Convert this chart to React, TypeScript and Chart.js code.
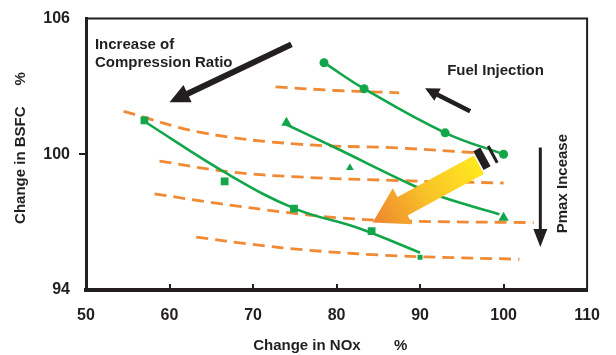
import React, { useEffect, useRef } from 'react';
import { Chart, registerables } from 'chart.js';

Chart.register(...registerables);

const FONT = "'Liberation Sans', Arial, sans-serif";
const INK = '#231f20';
const GREEN = '#12a54a';
const ORANGE = '#f08a34';

const xTickValues = [50, 60, 70, 80, 90, 100, 110];
const yTickValues = [94, 100, 106];

// circles (fuel injection sweep)
const circleX = [78.5, 83.3, 93.0, 100.0];
const circleY = [104.05, 102.9, 100.95, 100.0];

// triangles
const triangleX = [74.0, 81.6, 100.0];
const triangleY = [101.4, 99.4, 97.2];
const triangleSize = [6, 4.5, 6];
const triangleFitX = [73.8, 79.8, 89.3, 92.7, 99.5];
const triangleFitY = [101.35, 100.3, 98.6, 98.1, 97.35];

// squares
const squareX = [57.0, 66.6, 74.9, 84.2, 90.0];
const squareY = [101.5, 98.8, 97.6, 96.6, 95.45];
const squareSize = [5.5, 5.5, 5.5, 5.5, 3.5];
const squareFitX = [57.0, 67.1, 75.0, 82.5, 90.0];
const squareFitY = [101.45, 99.1, 97.6, 96.75, 95.65];

// orange dashed (constant Pmax lines)
const dash1X = [72.7, 80.0, 87.5];
const dash1Y = [102.98, 102.82, 102.72];
const dash2X = [54.5, 63.9, 75.4, 87.3, 96.8];
const dash2Y = [101.9, 100.96, 100.45, 100.28, 100.07];
const dash3X = [58.8, 67.1, 75.4, 87.3, 100.0];
const dash3Y = [99.7, 99.23, 99.0, 98.84, 98.73];
const dash4X = [58.2, 66.0, 74.0, 80.0, 88.0, 103.6];
const dash4Y = [98.25, 97.82, 97.43, 97.2, 97.05, 96.98];
const dash5X = [63.2, 69.9, 76.6, 87.3, 101.9];
const dash5Y = [96.34, 96.02, 95.76, 95.51, 95.36];

// annotations (data coordinates)
const compArrow = { from: [74.6, 104.86], to: [60.0, 102.3] };
const fuelArrow = { from: [96.0, 101.9], to: [90.6, 102.92] };
const pmaxArrow = { from: [104.4, 100.3], to: [104.4, 95.9] };
const bigArrow = { from: [97.05, 99.54], to: [84.33, 96.99] };
const labels = [
  { text: 'Increase of', x: 51.07, y: 104.64 },
  { text: 'Compression Ratio', x: 51.07, y: 103.85 },
  { text: 'Fuel Injection', x: 93.25, y: 103.49 },
];
const pmaxLabel = { text: 'Pmax Incease', x: 107.62, y: 96.51 };

const pts = (xs: number[], ys: number[]) => xs.map((x, i) => ({ x, y: ys[i] }));

function arrow(ctx: CanvasRenderingContext2D, x1: number, y1: number, x2: number, y2: number,
  shaft: number, headL: number, headW: number, fill: any) {
  const dx = x2 - x1, dy = y2 - y1, len = Math.hypot(dx, dy);
  const ux = dx / len, uy = dy / len, px = -uy, py = ux;
  const bx = x2 - ux * headL, by = y2 - uy * headL;
  ctx.beginPath();
  ctx.moveTo(x1 + px * shaft / 2, y1 + py * shaft / 2);
  ctx.lineTo(bx + px * shaft / 2, by + py * shaft / 2);
  ctx.lineTo(bx + px * headW / 2, by + py * headW / 2);
  ctx.lineTo(x2, y2);
  ctx.lineTo(bx - px * headW / 2, by - py * headW / 2);
  ctx.lineTo(bx - px * shaft / 2, by - py * shaft / 2);
  ctx.lineTo(x1 - px * shaft / 2, y1 - py * shaft / 2);
  ctx.closePath();
  ctx.fillStyle = fill;
  ctx.fill();
}

function rotRect(ctx: CanvasRenderingContext2D, cx: number, cy: number, ax: number, ay: number,
  px: number, py: number, along: number, across: number) {
  ctx.beginPath();
  ctx.moveTo(cx + ax * along / 2 + px * across / 2, cy + ay * along / 2 + py * across / 2);
  ctx.lineTo(cx - ax * along / 2 + px * across / 2, cy - ay * along / 2 + py * across / 2);
  ctx.lineTo(cx - ax * along / 2 - px * across / 2, cy - ay * along / 2 - py * across / 2);
  ctx.lineTo(cx + ax * along / 2 - px * across / 2, cy + ay * along / 2 - py * across / 2);
  ctx.closePath();
  ctx.fill();
}

const decorPlugin = {
  id: 'decor',
  afterDraw(chart: any) {
    const { ctx, chartArea: a, scales } = chart;
    const X = (v: number) => scales.x.getPixelForValue(v);
    const Y = (v: number) => scales.y.getPixelForValue(v);
    ctx.save();
    // top & right frame
    ctx.strokeStyle = INK;
    ctx.lineWidth = 2;
    ctx.beginPath();
    ctx.moveTo(a.left, a.top);
    ctx.lineTo(a.right, a.top);
    ctx.lineTo(a.right, a.bottom);
    ctx.stroke();
    // inward x ticks
    ctx.lineWidth = 2;
    xTickValues.slice(1, -1).forEach((v) => {
      const x = Math.round(X(v));
      ctx.beginPath();
      ctx.moveTo(x, a.bottom - 1);
      ctx.lineTo(x, a.bottom - 6);
      ctx.stroke();
    });

    // black arrows
    arrow(ctx, X(compArrow.from[0]), Y(compArrow.from[1]), X(compArrow.to[0]), Y(compArrow.to[1]), 6, 20, 19, INK);
    arrow(ctx, X(fuelArrow.from[0]), Y(fuelArrow.from[1]), X(fuelArrow.to[0]), Y(fuelArrow.to[1]), 4.5, 14, 14, INK);
    arrow(ctx, X(pmaxArrow.from[0]), Y(pmaxArrow.from[1]), X(pmaxArrow.to[0]), Y(pmaxArrow.to[1]), 3, 18, 14, INK);

    // big gradient arrow
    const tx = X(bigArrow.from[0]), ty = Y(bigArrow.from[1]);
    const hx = X(bigArrow.to[0]), hy = Y(bigArrow.to[1]);
    const g = ctx.createLinearGradient(tx, ty, hx, hy);
    g.addColorStop(0, '#ffe81e');
    g.addColorStop(0.5, '#f9c228');
    g.addColorStop(1, '#ee8530');
    arrow(ctx, tx, ty, hx, hy, 21, 34, 41, g);
    // break marks at tail
    const len = Math.hypot(hx - tx, hy - ty);
    const ux = (hx - tx) / len, uy = (hy - ty) / len;
    const bx = -ux, by = -uy;
    const px = uy, py = -ux;
    ctx.fillStyle = INK;
    rotRect(ctx, tx + bx * 5.5 + px * -3.8, ty + by * 5.5 + py * -3.8, bx, by, px, py, 8, 21.5);
    rotRect(ctx, tx + bx * 17 + px * -2.5, ty + by * 17 + py * -2.5, bx, by, px, py, 3, 19);

    // texts
    ctx.fillStyle = INK;
    ctx.font = `bold 15px ${FONT}`;
    ctx.textBaseline = 'alphabetic';
    ctx.textAlign = 'left';
    labels.forEach((l) => ctx.fillText(l.text, X(l.x), Y(l.y)));
    ctx.translate(X(pmaxLabel.x), Y(pmaxLabel.y));
    ctx.rotate(-Math.PI / 2);
    ctx.fillText(pmaxLabel.text, 0, 0);
    ctx.restore();
  },
};

export default function App() {
  const ref = useRef<HTMLCanvasElement | null>(null);
  useEffect(() => {
    document.body.style.margin = '0';
    const canvas = ref.current!;
    const greenLine = { borderColor: GREEN, borderWidth: 2.6, showLine: true, pointRadius: 0, tension: 0.4 };
    const dashLine = { borderColor: ORANGE, borderWidth: 2.8, showLine: true, pointRadius: 0, borderDash: [12, 7], tension: 0.4 };
    const chart = new Chart(canvas, {
      type: 'scatter',
      data: {
        datasets: [
          { ...greenLine, data: pts(circleX, circleY), pointRadius: 4.5, pointStyle: 'circle', pointBackgroundColor: GREEN, pointBorderWidth: 0 },
          { data: pts(triangleX, triangleY), pointRadius: triangleSize, pointStyle: 'triangle', backgroundColor: GREEN, pointBackgroundColor: GREEN, pointBorderWidth: 0, showLine: false },
          { ...greenLine, data: pts(triangleFitX, triangleFitY) },
          { data: pts(squareX, squareY), pointRadius: squareSize, pointStyle: 'rect', backgroundColor: GREEN, pointBackgroundColor: GREEN, pointBorderWidth: 0, showLine: false },
          { ...greenLine, data: pts(squareFitX, squareFitY) },
          { ...dashLine, data: pts(dash1X, dash1Y) },
          { ...dashLine, data: pts(dash2X, dash2Y) },
          { ...dashLine, data: pts(dash3X, dash3Y) },
          { ...dashLine, data: pts(dash4X, dash4Y) },
          { ...dashLine, data: pts(dash5X, dash5Y) },
        ] as any,
      },
      options: {
        animation: false,
        responsive: false,
        layout: { padding: { left: 0, right: 25, top: 17, bottom: 0 } },
        plugins: { legend: { display: false }, tooltip: { enabled: false } },
        scales: {
          x: {
            type: 'linear',
            min: 50,
            max: 110,
            afterBuildTicks: (s: any) => { s.ticks = xTickValues.map((v) => ({ value: v })); },
            afterFit: (s: any) => { s.height = 65; },
            grid: { drawOnChartArea: false, drawTicks: false, color: 'rgba(0,0,0,0)' },
            border: { display: true, color: INK, width: 4 },
            ticks: { padding: 16, color: INK, font: { family: FONT, size: 16, weight: 'bold' }, maxRotation: 0 },
            title: { display: true, text: 'Change in NOx        %   ', color: INK, font: { family: FONT, size: 15, weight: 'bold' }, padding: { top: 0, bottom: 0 } },
          },
          y: {
            type: 'linear',
            min: 94,
            max: 106,
            afterBuildTicks: (s: any) => { s.ticks = yTickValues.map((v) => ({ value: v })); },
            afterFit: (s: any) => { s.width = 86; },
            grid: {
              drawOnChartArea: false,
              drawTicks: true,
              tickLength: 7,
              lineWidth: 2,
              color: (c: any) => (c.tick && c.tick.value === 100 ? INK : 'rgba(0,0,0,0)'),
            },
            border: { display: true, color: INK, width: 3 },
            ticks: { padding: 9, color: INK, font: { family: FONT, size: 16, weight: 'bold' } },
            title: { display: true, text: '   Change in BSFC     %', color: INK, font: { family: FONT, size: 15, weight: 'bold' }, padding: { top: 12, bottom: 0 } },
          },
        },
      } as any,
      plugins: [decorPlugin],
    });
    return () => chart.destroy();
  }, []);
  return <canvas ref={ref} width={616} height={355} style={{ display: 'block' }} />;
}
